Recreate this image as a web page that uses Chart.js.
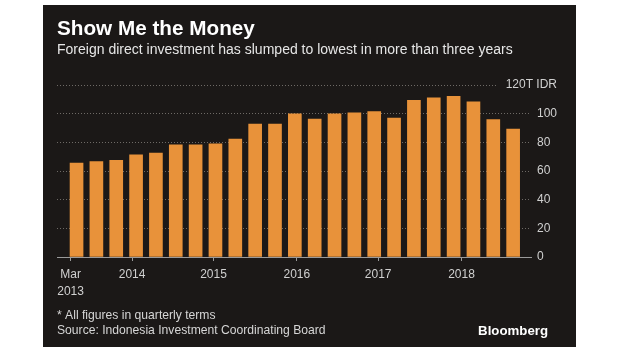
<!DOCTYPE html>
<html><head><meta charset="utf-8">
<script src="https://cdn.jsdelivr.net/npm/chart.js@4.4.0/dist/chart.umd.min.js"></script>
<style>html,body{margin:0;padding:0;background:#fff;overflow:hidden}</style>
</head><body>
<canvas id="c" width="620" height="355"></canvas>
<script>
const quarters = ['Mar 2013','Jun 2013','Sep 2013','Dec 2013','Mar 2014','Jun 2014','Sep 2014','Dec 2014',
  'Mar 2015','Jun 2015','Sep 2015','Dec 2015','Mar 2016','Jun 2016','Sep 2016','Dec 2016',
  'Mar 2017','Jun 2017','Sep 2017','Dec 2017','Mar 2018','Jun 2018','Sep 2018'];
const fdiValues = [65.5, 66.6, 67.4, 71.3, 72.5, 78.3, 78.3, 79.0, 82.3, 92.8, 92.8, 99.8,
  96.3, 99.8, 100.5, 101.4, 97.0, 109.3, 111.0, 112.1, 108.2, 95.8, 89.3];
const xTickPositions = [-0.3, 2.8, 6.9, 11.1, 15.2, 19.4];
const xTickLabels = [['Mar','2013'], '2014', '2015', '2016', '2017', '2018'];
const yTickValues = [0, 20, 40, 60, 80, 100, 120];
const unitLabel = '120T IDR';
const titleText = 'Show Me the Money';
const subtitleText = 'Foreign direct investment has slumped to lowest in more than three years';
const noteText = '* All figures in quarterly terms';
const sourceText = 'Source: Indonesia Investment Coordinating Board';
const brandText = 'Bloomberg';

const FONT = '"Liberation Sans", Arial, sans-serif';
const PANEL = '#1b1817';
const BAR = '#e8923a';

function fitSize(ctx, text, target, weight, base) {
  ctx.font = weight + ' ' + base + 'px ' + FONT;
  const w = ctx.measureText(text).width;
  return base * target / w;
}

const decor = {
  id: 'decor',
  beforeDraw(chart) {
    const ctx = chart.ctx;
    ctx.save();
    ctx.fillStyle = '#ffffff';
    ctx.fillRect(0, 0, chart.width, chart.height);
    ctx.fillStyle = PANEL;
    ctx.fillRect(43, 5, 533, 342);
    ctx.restore();
  },
  afterDraw(chart) {
    const ctx = chart.ctx;
    const ys = chart.scales.y;
    const area = chart.chartArea;
    ctx.save();
    ctx.textAlign = 'left';
    ctx.textBaseline = 'alphabetic';
    let s = fitSize(ctx, titleText, 198, 'bold', 20);
    ctx.font = 'bold ' + s + 'px ' + FONT;
    ctx.fillStyle = '#ffffff';
    ctx.fillText(titleText, 57, 35);
    s = fitSize(ctx, subtitleText, 456, 'normal', 13);
    ctx.font = s + 'px ' + FONT;
    ctx.fillStyle = '#e6e6e6';
    ctx.fillText(subtitleText, 57, 54);
    s = fitSize(ctx, sourceText, 269, 'normal', 12);
    ctx.font = s + 'px ' + FONT;
    ctx.fillStyle = '#d6d6d6';
    ctx.fillText(noteText, 57, 319);
    ctx.fillText(sourceText, 57, 334);
    s = fitSize(ctx, brandText, 70, 'bold', 14);
    ctx.font = 'bold ' + s + 'px ' + FONT;
    ctx.fillStyle = '#ffffff';
    ctx.textAlign = 'right';
    ctx.fillText(brandText, 548, 335);
    const yTop = ys.getPixelForValue(120);
    ctx.font = '12px ' + FONT;
    const numW = ctx.measureText('100').width;
    const rightEdge = area.right + 6 + numW;
    ctx.fillStyle = '#d0d0d0';
    ctx.textAlign = 'right';
    ctx.textBaseline = 'middle';
    ctx.fillText(unitLabel, rightEdge, yTop);
    const labW = ctx.measureText(unitLabel).width;
    ctx.strokeStyle = '#6e6a66';
    ctx.lineWidth = 1;
    ctx.setLineDash([1, 2]);
    ctx.beginPath();
    ctx.moveTo(area.left, Math.round(yTop) + 0.5);
    ctx.lineTo(rightEdge - labW - 8, Math.round(yTop) + 0.5);
    ctx.stroke();
    ctx.restore();
  }
};

new Chart(document.getElementById('c'), {
  type: 'bar',
  data: {
    datasets: [{
      label: 'FDI',
      data: fdiValues.map((v, i) => ({x: i, y: v})),
      backgroundColor: BAR,
      borderWidth: 0,
      barThickness: 13
    }]
  },
  options: {
    responsive: false,
    devicePixelRatio: 1,
    animation: false,
    layout: {padding: {left: 57, top: 85, right: 0, bottom: 0}},
    plugins: {legend: {display: false}, tooltip: {enabled: false}, title: {display: false}},
    scales: {
      x: {
        type: 'linear',
        offset: false,
        min: -0.985,
        max: 22.9,
        afterBuildTicks: s => { s.ticks = xTickPositions.map(v => ({value: v})); },
        afterFit: s => { s.height = 98; },
        ticks: {
          callback: (v, i) => xTickLabels[i],
          autoSkip: false, maxRotation: 0, minRotation: 0,
          color: '#d0d0d0', font: {family: FONT, size: 12, lineHeight: 1.4}, padding: 5
        },
        grid: {offset: false, drawOnChartArea: false, drawTicks: true, tickLength: 4, color: '#9a9a9a'},
        border: {display: true, color: '#9a9a9a', width: 1}
      },
      y: {
        position: 'right',
        min: 0, max: 120,
        afterBuildTicks: s => { s.ticks = yTickValues.map(v => ({value: v})); },
        afterFit: s => { s.width = 89; },
        ticks: {
          callback: v => (v === 120 ? '' : String(v)),
          color: '#d0d0d0', font: {family: FONT, size: 12}, padding: 6
        },
        grid: {
          drawTicks: false,
          color: c => (c.tick && (c.tick.value === 0 || c.tick.value === 120)) ? 'rgba(0,0,0,0)' : '#6e6a66',
          lineWidth: 1
        },
        border: {display: false, dash: [1, 2]}
      }
    }
  },
  plugins: [decor]
});
</script>
</body></html>
